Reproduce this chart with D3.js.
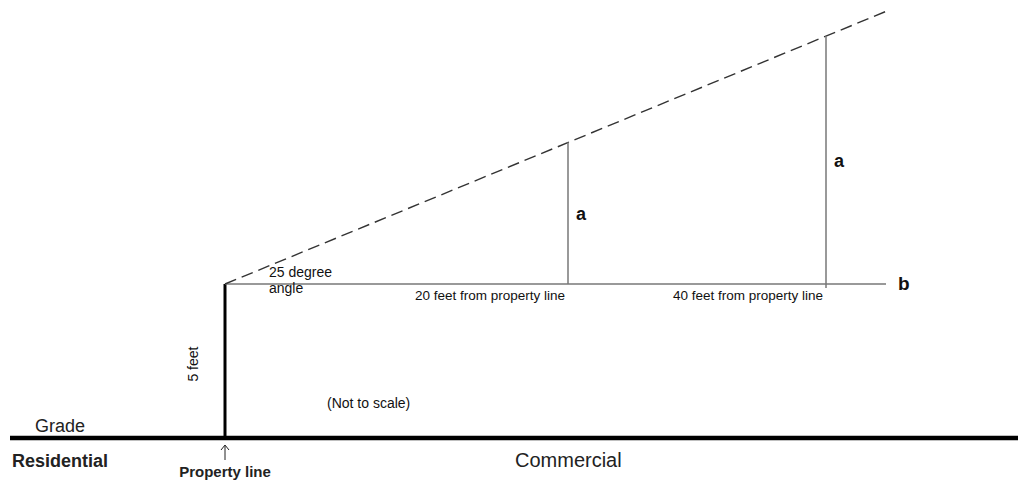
<!DOCTYPE html>
<html>
<head>
<meta charset="utf-8">
<script src="https://cdn.jsdelivr.net/npm/d3@7"></script>
<style>
  body { margin: 0; background: #fff; }
  svg { display: block; font-family: "Liberation Sans", Arial, sans-serif; }
</style>
</head>
<body>
<svg id="chart" width="1018" height="485"></svg>
<script>
// diagram values (feet, not to scale)
const offsets = [20, 40];            // distance of the "a" lines from the property line
const offsetLabels = ["20 feet from property line", "40 feet from property line"];
const aHeights = [4.6, 8.05];        // height of the "a" lines above line b
const wallHeight = 5;                // 5 feet wall at property line
const lineBEnd = 45;                 // where line b stops
const slopeEnd = [45.3, 8.9];        // end of the dashed slope (x, above b)

const svg = d3.select("#chart");

// x is not to scale, so the scale is piecewise
const xScale = d3.scaleLinear()
                 .domain([-15, 0, 20, 40, 45])
                 .range([10, 225, 568, 826, 886]);

const yScale = d3.scaleLinear()
                 .domain([0, 5])
                 .range([438, 284]);

// clipped title at very top (only descenders show)
svg.append("text")
   .attr("x", 12).attr("y", -3)
   .attr("font-size", 14).attr("font-weight", "bold")
   .text("Figure 6: Measuring Building Height");

// grade line
svg.append("line")
   .attr("x1", xScale(-15)).attr("x2", 1018)
   .attr("y1", yScale(0)).attr("y2", yScale(0))
   .attr("stroke", "#000").attr("stroke-width", 4.5);

// 5 foot wall
svg.append("line")
   .attr("x1", xScale(0)).attr("x2", xScale(0))
   .attr("y1", yScale(0)).attr("y2", yScale(wallHeight))
   .attr("stroke", "#000").attr("stroke-width", 3);

// line b
svg.append("line")
   .attr("x1", xScale(0)).attr("x2", xScale(lineBEnd))
   .attr("y1", yScale(wallHeight)).attr("y2", yScale(wallHeight))
   .attr("stroke", "#777").attr("stroke-width", 1.5);

// dashed slope
svg.append("line")
   .attr("x1", xScale(0)).attr("y1", yScale(wallHeight))
   .attr("x2", xScale(slopeEnd[0])).attr("y2", yScale(wallHeight + slopeEnd[1]))
   .attr("stroke", "#333").attr("stroke-width", 1.4)
   .attr("stroke-dasharray", "12,6");

// "a" lines
svg.selectAll("line.a")
   .data(offsets)
   .enter()
   .append("line")
   .attr("class", "a")
   .attr("x1", d => xScale(d)).attr("x2", d => xScale(d))
   .attr("y1", (d, i) => yScale(wallHeight + aHeights[i]))
   .attr("y2", (d, i) => yScale(wallHeight) + (i === 1 ? 4 : 0))
   .attr("stroke", "#777").attr("stroke-width", 1.5);

svg.selectAll("text.a")
   .data(offsets)
   .enter()
   .append("text")
   .attr("class", "a")
   .attr("x", d => xScale(d) + 8)
   .attr("y", (d, i) => yScale(wallHeight + aHeights[i] / 2) + 7)
   .attr("font-size", 18).attr("font-weight", "bold")
   .attr("fill", "#111")
   .text("a");

svg.selectAll("text.off")
   .data(offsets)
   .enter()
   .append("text")
   .attr("class", "off")
   .attr("x", d => xScale(d) - 3)
   .attr("y", yScale(wallHeight) + 16)
   .attr("text-anchor", "end")
   .attr("font-size", 13.5)
   .attr("fill", "#111")
   .text((d, i) => offsetLabels[i]);

svg.append("text")
   .attr("x", xScale(lineBEnd) + 12).attr("y", yScale(wallHeight) + 6)
   .attr("font-size", 19).attr("font-weight", "bold")
   .attr("fill", "#111")
   .text("b");

// angle label
svg.append("text")
   .attr("x", 269).attr("y", yScale(wallHeight) - 7)
   .attr("font-size", 14).attr("fill", "#111").text("25 degree");
svg.append("text")
   .attr("x", 269).attr("y", yScale(wallHeight) + 9)
   .attr("font-size", 14).attr("fill", "#111").text("angle");

// wall label
svg.append("text")
   .attr("transform", `translate(198,${yScale(2.4)}) rotate(-90)`)
   .attr("text-anchor", "middle")
   .attr("font-size", 14).attr("fill", "#111").text("5 feet");

svg.append("text")
   .attr("x", 327).attr("y", 408)
   .attr("font-size", 14).attr("fill", "#111").text("(Not to scale)");

svg.append("text")
   .attr("x", 35).attr("y", 432)
   .attr("font-size", 18).attr("fill", "#222").text("Grade");

svg.append("text")
   .attr("x", 12).attr("y", 467)
   .attr("font-size", 18).attr("font-weight", "bold")
   .attr("fill", "#222").text("Residential");

svg.append("text")
   .attr("x", 515).attr("y", 467)
   .attr("font-size", 20).attr("fill", "#222").text("Commercial");

// property line arrow
svg.append("path")
   .attr("d", `M${xScale(0)},460 V446 M${xScale(0) - 4},450 L${xScale(0)},445 L${xScale(0) + 4},450`)
   .attr("fill", "none").attr("stroke", "#222").attr("stroke-width", 1);

svg.append("text")
   .attr("x", xScale(0)).attr("y", 477)
   .attr("text-anchor", "middle")
   .attr("font-size", 15).attr("font-weight", "bold")
   .attr("fill", "#222").text("Property line");
</script>
</body>
</html>
